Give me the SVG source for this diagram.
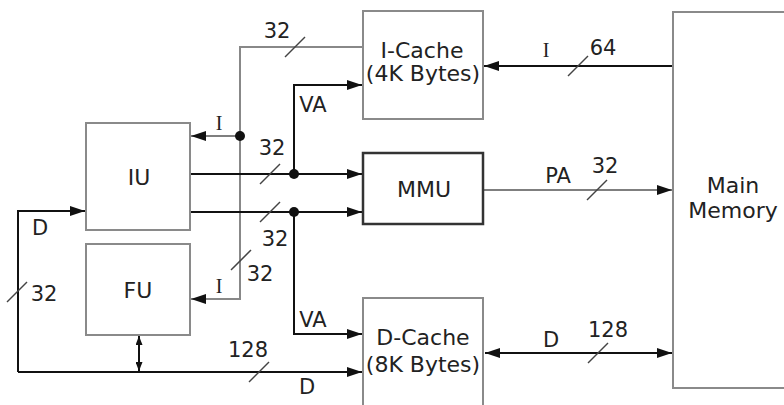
<svg xmlns="http://www.w3.org/2000/svg" width="784" height="405" viewBox="0 0 784 405">
<style>
.box{fill:#fff;stroke:#8a8a8a;stroke-width:2}
.mmu{fill:#fff;stroke:#333;stroke-width:2.5}
.t{font-family:"DejaVu Sans","Liberation Sans",sans-serif;font-size:22px;fill:#222;text-anchor:middle}
.l{font-family:"DejaVu Sans","Liberation Sans",sans-serif;font-size:21px;fill:#222;text-anchor:middle}
.s{font-family:"Liberation Serif",serif;font-size:20px;fill:#222;text-anchor:middle}
.bk{fill:none;stroke:#111;stroke-width:2}
.gy{fill:none;stroke:#888;stroke-width:2}
.dg{fill:none;stroke:#555;stroke-width:1.6}
.sl{stroke:#444;stroke-width:1.5}
.dot{fill:#111}
</style>
<defs>
<marker id="ah" markerUnits="userSpaceOnUse" markerWidth="15" markerHeight="10" refX="15" refY="5" orient="auto-start-reverse">
<path d="M0,0 L15,5 L0,10 z" fill="#111"/>
</marker>
<marker id="sm" markerUnits="userSpaceOnUse" markerWidth="9" markerHeight="7" refX="9" refY="3.5" orient="auto-start-reverse">
<path d="M0,0 L9,3.5 L0,7 z" fill="#111"/>
</marker>
</defs>
<g id="connectors">
<path class="gy" d="M363,47 H240 V299 H191" marker-end="url(#ah)"/>
<path class="dg" d="M240,136 H191" marker-end="url(#ah)"/>
<path class="bk" d="M190,174 H362" marker-end="url(#ah)"/>
<path class="bk" d="M294,174 V85 H362" marker-end="url(#ah)"/>
<path class="bk" d="M190,212 H362" marker-end="url(#ah)"/>
<path class="bk" d="M294,212 V334 H362" marker-end="url(#ah)"/>
<path class="bk" d="M18,372 H362" marker-end="url(#ah)"/>
<path class="bk" d="M18,372 V211 H85" marker-end="url(#ah)"/>
<path class="bk" d="M139,336 V371" marker-start="url(#sm)" marker-end="url(#sm)"/>
<path class="bk" d="M673,66 H484" marker-end="url(#ah)"/>
<path class="dg" d="M484,190 H672" marker-end="url(#ah)"/>
<path class="bk" d="M485,353 H672" marker-start="url(#ah)" marker-end="url(#ah)"/>
<circle class="dot" cx="240" cy="136" r="5"/>
<circle class="dot" cx="294" cy="174" r="5"/>
<circle class="dot" cx="294" cy="212" r="5"/>
<g id="slashes">
<line class="sl" x1="285" y1="57" x2="305" y2="37"/>
<line class="sl" x1="260" y1="184" x2="280" y2="164"/>
<line class="sl" x1="260" y1="222" x2="280" y2="202"/>
<line class="sl" x1="231" y1="270" x2="251" y2="250"/>
<line class="sl" x1="7" y1="302" x2="27" y2="282"/>
<line class="sl" x1="249" y1="382" x2="269" y2="362"/>
<line class="sl" x1="568" y1="76" x2="588" y2="56"/>
<line class="sl" x1="587" y1="200" x2="607" y2="180"/>
<line class="sl" x1="588" y1="363" x2="608" y2="343"/>
</g>
</g>
<g id="icache">
<rect class="box" x="363" y="11" width="120" height="108"/>
<text class="t" x="422" y="58">I-Cache</text>
<text class="t" x="423" y="81">(4K Bytes)</text>
</g>
<g id="iu">
<rect class="box" x="86" y="123" width="104" height="107"/>
<text class="t" x="139" y="185">IU</text>
</g>
<g id="fu">
<rect class="box" x="86" y="244" width="104" height="91"/>
<text class="t" x="138" y="298">FU</text>
</g>
<g id="mmu">
<rect class="mmu" x="363" y="153" width="120" height="71"/>
<text class="t" x="424" y="197">MMU</text>
</g>
<g id="dcache">
<rect class="box" x="363" y="298" width="120" height="120"/>
<text class="t" x="423" y="345">D-Cache</text>
<text class="t" x="423" y="372">(8K Bytes)</text>
</g>
<g id="mainmemory">
<rect class="box" x="673" y="12" width="130" height="376"/>
<text class="t" x="733" y="193">Main</text>
<text class="t" x="733" y="218">Memory</text>
</g>
<g id="labels">
<text class="l" x="277" y="38">32</text>
<text class="l" x="272" y="155">32</text>
<text class="l" x="275" y="246">32</text>
<text class="l" x="260" y="281">32</text>
<text class="l" x="44" y="301">32</text>
<text class="l" x="248" y="357">128</text>
<text class="l" x="307" y="394">D</text>
<text class="l" x="40" y="235">D</text>
<text class="l" x="313" y="112">VA</text>
<text class="l" x="313" y="327">VA</text>
<text class="l" x="603" y="55">64</text>
<text class="l" x="558" y="183">PA</text>
<text class="l" x="605" y="173">32</text>
<text class="l" x="551" y="347">D</text>
<text class="l" x="608" y="337">128</text>
<text class="s" x="219" y="130">I</text>
<text class="s" x="219" y="293">I</text>
<text class="s" x="546" y="57">I</text>
</g>
</svg>
